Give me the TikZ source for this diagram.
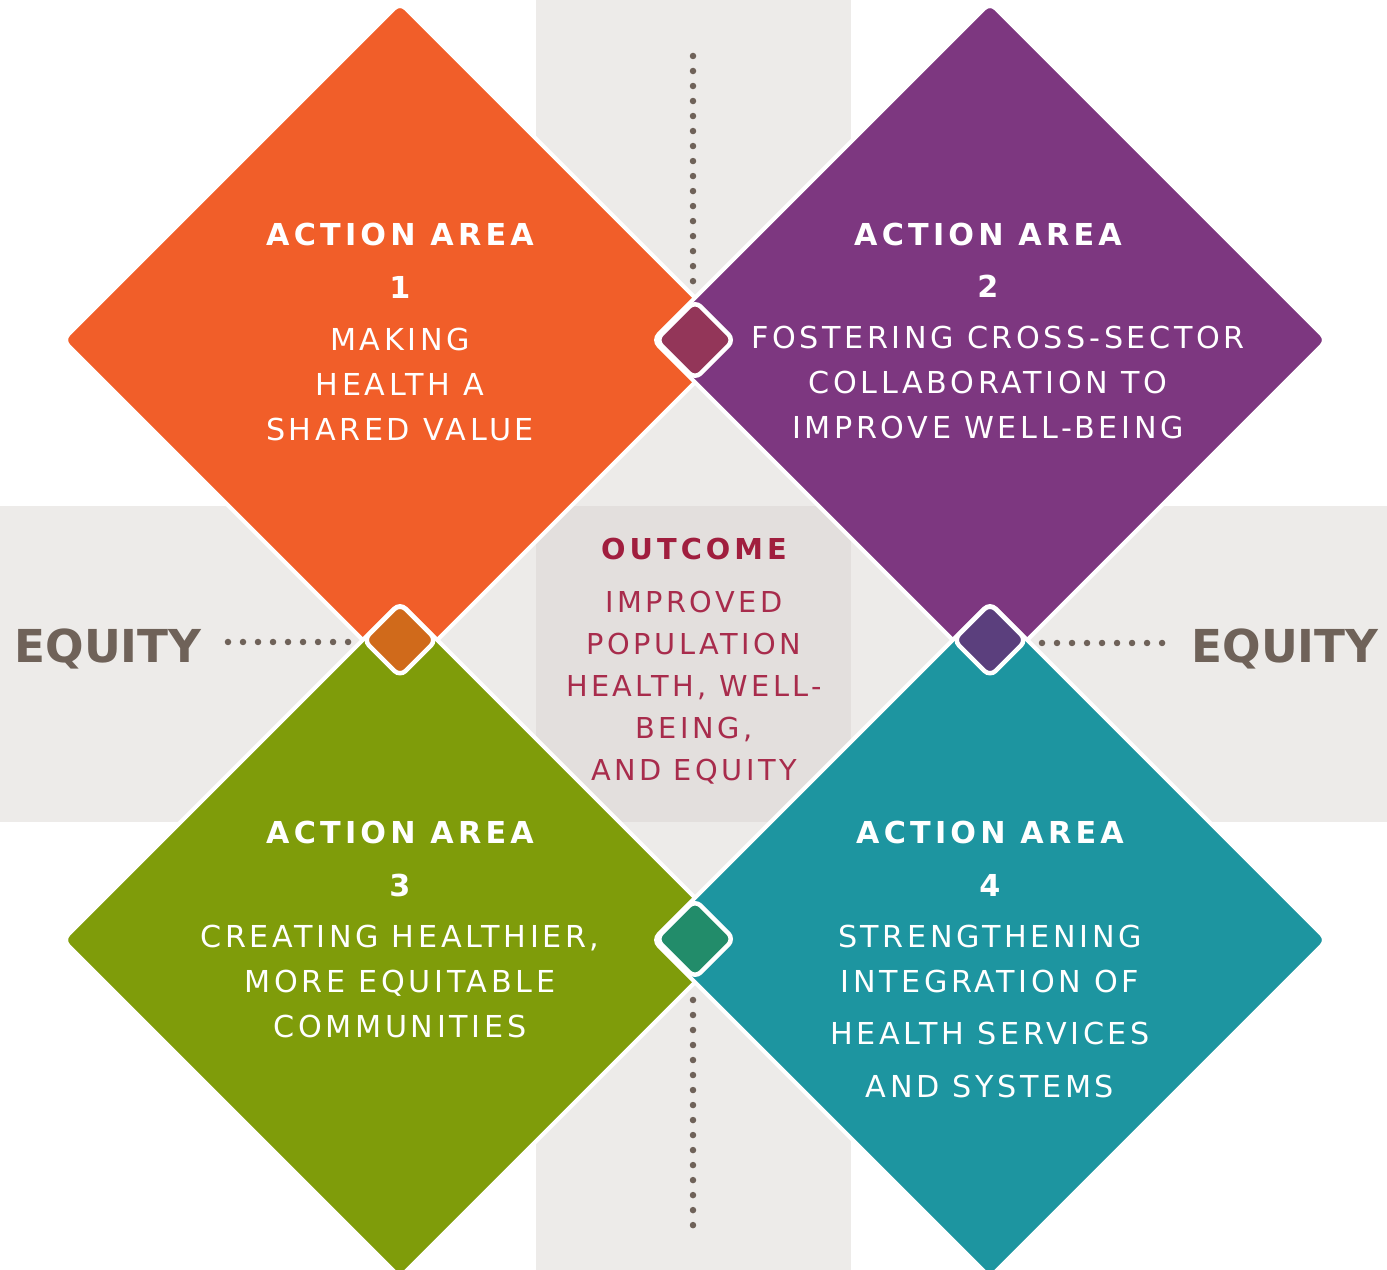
\documentclass[tikz,border=0pt]{standalone}
\usepackage{fontspec}
\setmainfont{DejaVu Sans}
\newfontfamily\spacedfont{DejaVu Sans}[LetterSpace=12,BoldFeatures={LetterSpace=14}]
\usetikzlibrary{shapes.geometric}
\definecolor{cOrange}{HTML}{F15E29}
\definecolor{cPurple}{HTML}{7D3780}
\definecolor{cGreen}{HTML}{7F9C0A}
\definecolor{cTeal}{HTML}{1D95A0}
\definecolor{jTop}{HTML}{933659}
\definecolor{jLeft}{HTML}{D06A1B}
\definecolor{jRight}{HTML}{5B3F7D}
\definecolor{jBottom}{HTML}{228C6A}
\definecolor{band}{HTML}{EDEBE9}
\definecolor{bandmid}{HTML}{E3DFDD}
\definecolor{eqgrey}{HTML}{6F6259}
\definecolor{outhead}{HTML}{A01E3E}
\definecolor{outtext}{HTML}{A82C4C}
\tikzset{
  bigdia/.style={diamond, aspect=1, minimum width=6.74cm, minimum height=6.74cm,
    inner sep=0pt, outer sep=0pt, draw=white, line width=0.04cm, rounded corners=0.08cm},
  smalldia/.style={diamond, aspect=1, minimum width=#1, minimum height=#1,
    inner sep=0pt, outer sep=0pt, draw=white, line width=0.045cm, rounded corners=0.08cm},
  areatext/.style={text=white, align=center, inner sep=0pt, anchor=north,
    font=\spacedfont\fontsize{8.59pt}{12.8pt}\selectfont},
  outtextstyle/.style={text=outtext, align=center, inner sep=0pt, anchor=north,
    font=\spacedfont\fontsize{8.19pt}{11.95pt}\selectfont},
  eqstyle/.style={text=eqgrey, inner sep=0pt, anchor=base,
    font=\fontsize{12.9pt}{15pt}\selectfont\bfseries},
  dotline/.style={draw=eqgrey, line width=0.065cm, line cap=round,
    dash pattern=on 0pt off 0.15cm}
}
\begin{document}
\begin{tikzpicture}[x=0.01cm, y=-0.01cm]
\useasboundingbox (0,0) rectangle (1387,1270);
\fill[white] (0,0) rectangle (1387,1270);
% grey bands
\fill[band] (536,0) rectangle (851,1270);
\fill[band] (0,506) rectangle (1387,822);
\fill[bandmid] (536,506) rectangle (851,822);
% dotted lines
\coordinate (vt1) at (693,56);  \coordinate (vt2) at (693,282.5);
\coordinate (vb1) at (693,1000); \coordinate (vb2) at (693,1226.5);
\coordinate (hl1) at (228,642); \coordinate (hl2) at (349,642);
\coordinate (hr1) at (1042,643); \coordinate (hr2) at (1163,643);
\draw[dotline] (vt1) -- (vt2);
\draw[dotline] (vb1) -- (vb2);
\draw[dotline] (hl1) -- (hl2);
\draw[dotline] (hr1) -- (hr2);
% big diamonds
\node[bigdia, fill=cOrange] (a1) at (400,340) {};
\node[bigdia, fill=cPurple] (a2) at (990,340) {};
\node[bigdia, fill=cGreen]  (a3) at (400,940) {};
\node[bigdia, fill=cTeal]   (a4) at (990,940) {};
% junction diamonds
\node[smalldia=0.78cm, fill=jTop]    (jt) at (695,340) {};
\node[smalldia=0.73cm, fill=jLeft]   (jl) at (400,640) {};
\node[smalldia=0.73cm, fill=jRight]  (jr) at (990,640) {};
\node[smalldia=0.78cm, fill=jBottom] (jb) at (695,939) {};
% texts
\node[areatext] (t1) at (400,222)
  {{\bfseries ACTION AREA}\\[0.08cm]{\bfseries 1}\\[0.07cm]MAKING\\HEALTH A\\SHARED VALUE};
\node[areatext] (t2) at (988,222)
  {{\bfseries ACTION AREA}\\[0.07cm]{\bfseries 2}\\[0.06cm]\hspace*{0.2cm}FOSTERING CROSS-SECTOR\\COLLABORATION TO\\IMPROVE WELL-BEING};
\node[areatext] (t3) at (400,820)
  {{\bfseries ACTION AREA}\\[0.08cm]{\bfseries 3}\\[0.06cm]CREATING HEALTHIER,\\MORE EQUITABLE\\COMMUNITIES};
\node[areatext] (t4) at (990,820)
  {{\bfseries ACTION AREA}\\[0.08cm]{\bfseries 4}\\[0.06cm]STRENGTHENING\\INTEGRATION OF\\[0.07cm]HEALTH SERVICES\\[0.08cm]AND SYSTEMS};
\node[outtextstyle] (out) at (694,537)
  {{\bfseries\color{outhead}OUTCOME}\\[0.11cm]IMPROVED\\POPULATION\\HEALTH, WELL-\\BEING,\\AND EQUITY};
\node[eqstyle] (eqL) at (108,663) {EQUITY};
\node[eqstyle] (eqR) at (1285,663) {EQUITY};
\end{tikzpicture}
\end{document}
